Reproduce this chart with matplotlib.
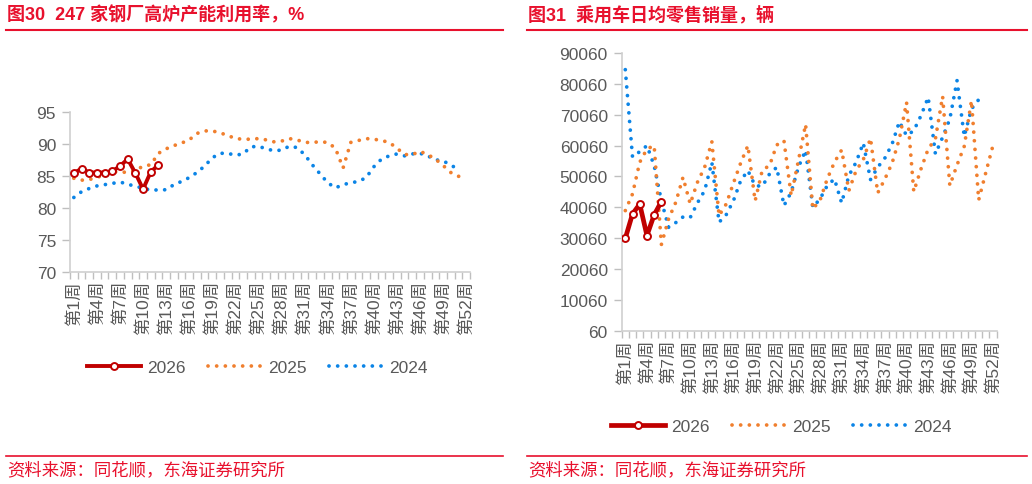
import numpy as np
import matplotlib
matplotlib.use('Agg')
import matplotlib.pyplot as plt
from matplotlib.lines import Line2D

plt.rcParams['font.family'] = ['Liberation Sans', 'Noto Sans CJK SC', 'DejaVu Sans']

# ── Data ──────────────────────────────────────────────────────────────────────
weeks = list(range(1, 53))
week_labels = [f'第{w}周' for w in weeks]

# 247 家钢厂高炉产能利用率，%
bf_2026 = [85.4, 86.1, 85.5, 85.5, 85.5, 85.7, 86.5, 87.6, 85.4, 82.9, 85.6, 86.7]
bf_2025 = [84.6, 84.3, 84.4, 84.7, 85.2, 85.6, 85.6, 85.5, 85.8, 86.5, 86.7, 88.5,
           89.2, 89.7, 90.1, 90.6, 91.6, 92.0, 92.0, 91.7, 91.3, 90.8, 90.7, 90.7,
           90.8, 90.6, 90.3, 90.4, 90.8, 90.6, 90.2, 90.2, 90.3, 90.2, 89.3, 86.2,
           90.2, 90.5, 90.8, 90.7, 90.5, 90.2, 89.3, 88.3, 88.3, 88.8, 88.3, 87.6,
           86.6, 85.5, 84.9, 85.1]
bf_2024 = [81.6, 82.5, 83.0, 83.4, 83.6, 83.8, 84.0, 83.7, 83.3, 83.1, 82.7, 82.8,
           82.8, 83.6, 84.1, 84.7, 85.5, 86.5, 87.8, 88.5, 88.5, 88.2, 88.4, 89.5,
           89.6, 89.2, 88.9, 89.0, 89.6, 89.4, 88.3, 86.7, 85.3, 83.9, 83.1, 83.6,
           83.9, 84.1, 84.7, 86.4, 87.6, 88.1, 88.4, 88.1, 88.4, 88.5, 88.1, 87.5,
           87.3, 86.7, 85.9]

# 乘用车日均零售销量，辆
car_2026 = [30000, 37900, 41100, 30900, 37600, 41900]
car_2025 = [38980, 44380, 54640, 58960, 60040, 27960, 36280, 41680, 49780, 41140,
            48160, 53020, 61330, 37360, 41140, 47940, 54420, 60040, 42110, 52150,
            53560, 60250, 61660, 43840, 55180, 66950, 39520, 42320, 49240, 54640,
            58630, 45460, 51940, 55500, 62410, 44700, 49240, 54420, 62200, 74080,
            45130, 52480, 58960, 62200, 76020, 47080, 53770, 59820, 74620, 42430,
            51400, 60250]
car_2024 = [84660, 56360, 58090, 60040, 53560, 42220, 33580, 35090, 36920, 36710,
            41460, 45460, 54640, 35200, 37680, 42220, 48700, 51940, 47080, 46860,
            50860, 53020, 40600, 44920, 53020, 58520, 40060, 42760, 47080, 49240,
            41460, 50320, 54640, 60900, 49020, 53020, 56040, 60580, 67810, 63280,
            64900, 69760, 75700, 57340, 62740, 68680, 81100, 63060, 71920, 74940]

RED = '#E8112D'
C26 = '#C00000'
C25 = '#F07F2E'
C24 = '#0B84E6'
GRID = '#BFBFBF'
TXT = '#595959'

fig = plt.figure(figsize=(10.32, 4.85), dpi=100)
W, H = 1032, 485


def fx(px):
    return px / W


def fy(py):
    return 1 - py / H


def draw_panel(ax, s26, s25, s24, ylim, yticks, ylabels, lw26):
    ax.plot(weeks[:len(s24)], s24, color=C24, lw=2.7, ls=(0, (0.01, 2.3)),
            dash_capstyle='round', label='2024', zorder=2)
    ax.plot(weeks[:len(s25)], s25, color=C25, lw=2.7, ls=(0, (0.01, 2.3)),
            dash_capstyle='round', label='2025', zorder=3)
    ax.plot(weeks[:len(s26)], s26, color=C26, lw=lw26, marker='o', ms=5,
            mfc='white', mec=C26, mew=1.4, label='2026', zorder=4)
    ax.set_xlim(0.5, 52.5)
    ax.set_ylim(*ylim)
    ax.set_yticks(yticks)
    ax.set_yticklabels(ylabels)
    ax.set_xticks(weeks[::3])
    ax.set_xticklabels(week_labels[::3], rotation=90)
    ax.set_xticks(np.arange(0.5, 53, 1), minor=True)
    ax.tick_params(axis='x', which='major', length=0, pad=6, labelsize=12.5, colors=TXT)
    ax.tick_params(axis='x', which='minor', length=5, color=GRID, width=1)
    ax.tick_params(axis='y', length=6, color=GRID, width=1, labelsize=12.5,
                   colors=TXT, pad=4)
    for s in ['top', 'right']:
        ax.spines[s].set_visible(False)
    for s in ['left', 'bottom']:
        ax.spines[s].set_color('#D0D0D0')
        ax.spines[s].set_linewidth(1.2)
    ax.patch.set_alpha(0)


# ── Left panel ────────────────────────────────────────────────────────────────
ax1 = fig.add_axes([fx(70), fy(272.7), fx(400), 160 / H])
draw_panel(ax1, bf_2026, bf_2025, bf_2024, (70, 95), range(70, 96, 5),
           [str(v) for v in range(70, 96, 5)], 2.8)

# ── Right panel ───────────────────────────────────────────────────────────────
ax2 = fig.add_axes([fx(621.7), fy(331.7), fx(375), 277.7 / H])
yt = list(range(60, 90061, 10000))
draw_panel(ax2, car_2026, car_2025, car_2024, (60, 90060), yt,
           [str(v) for v in yt], 3.4)

# legends
for ax, cx, cy in [(ax1, 257, 368), (ax2, 781, 427)]:
    h, l = ax.get_legend_handles_labels()
    order = [2, 1, 0]
    ax.legend([h[i] for i in order], [l[i] for i in order], loc='center',
              bbox_to_anchor=(fx(cx), fy(cy)), bbox_transform=fig.transFigure,
              ncol=3, frameon=False, fontsize=12.5, handlelength=3.1,
              handletextpad=0.35, columnspacing=1.3, labelcolor=TXT)

# titles, rules, sources
for x0, x1, title in [(6, 503, '图30  247 家钢厂高炉产能利用率，%'),
                      (527, 1027, '图31  乘用车日均零售销量，辆')]:
    fig.text(fx(x0 + 1), fy(15), title, color=RED, fontsize=13, fontweight='bold',
             ha='left', va='center')
    fig.add_artist(Line2D([fx(x0), fx(x1)], [fy(31)] * 2, color=RED, lw=1.5))
    fig.add_artist(Line2D([fx(x0), fx(x1)], [fy(456.5)] * 2, color=RED, lw=1.2))
    fig.text(fx(x0 + 1), fy(470), '资料来源：同花顺，东海证券研究所', color=RED,
             fontsize=12.5, ha='left', va='center')

fig.savefig('out.png', dpi=100)
